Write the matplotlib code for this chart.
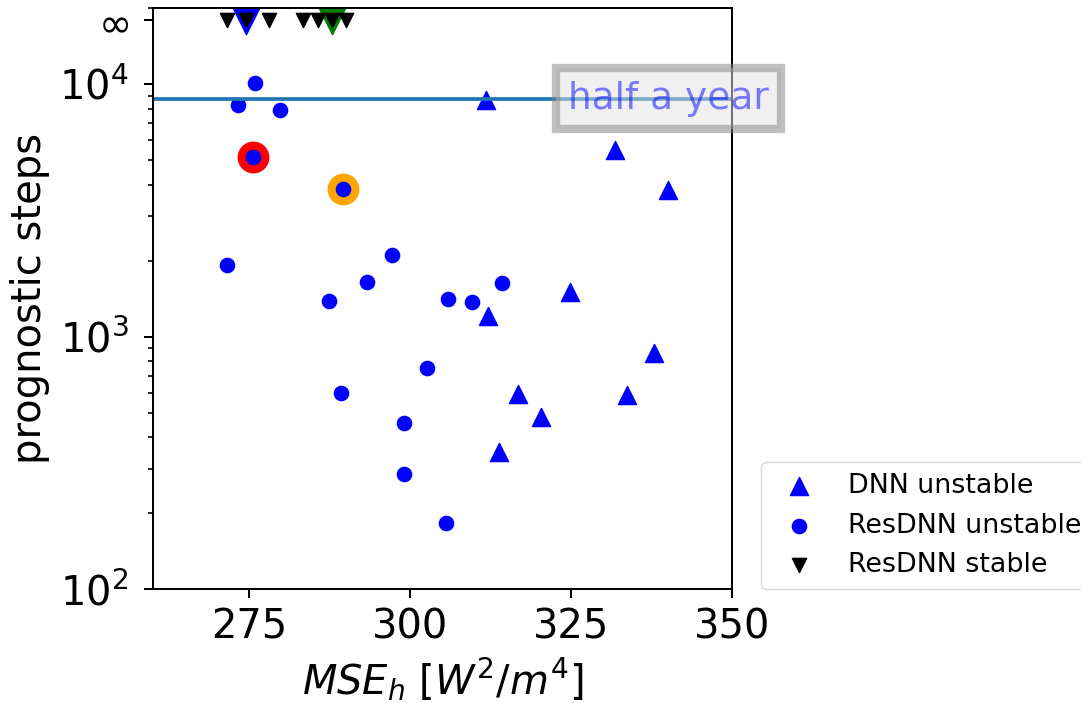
import matplotlib
matplotlib.use('Agg')
import matplotlib.pyplot as plt

# DNN unstable runs (MSE, prognostic steps before blow-up)
dnn_mse = [311.7, 331.7, 340.0, 324.7, 312.0, 337.8, 316.7, 333.6, 320.3, 313.7]
dnn_steps = [8690, 5510, 3820, 1500, 1210, 864, 594, 586, 481, 348]

# ResDNN unstable runs
res_mse = [275.9, 273.2, 279.8, 275.5, 289.6, 271.6, 287.4, 293.3, 297.2,
           305.8, 309.6, 314.2, 302.5, 289.2, 299.0, 299.0, 305.6]
res_steps = [10140, 8240, 7920, 5140, 3850, 1920, 1385, 1653, 2103,
             1406, 1377, 1624, 753, 597, 454, 286, 183]

# ResDNN stable runs (plotted at "infinity")
stable_mse = [271.6, 274.4, 278.0, 283.3, 285.7, 287.8, 290.0]
INF = 1.8e4
half_year = 8760

# highlighted models
hl_unstable = [(275.5, 5140, 'red'), (289.6, 3850, 'orange')]
hl_stable = [(274.4, 'blue'), (287.8, 'green')]

fig = plt.figure(figsize=(10.81, 7.03), dpi=100)
ax = fig.add_axes([0.1413, 0.1622, 0.5363, 0.8260])

for x, y, c in hl_unstable:
    ax.scatter(x, y, s=480, color=c)
for x, c in hl_stable:
    ax.scatter(x, INF, s=420, marker='v', color=c)

ax.scatter(dnn_mse, dnn_steps, s=170, marker='^', color='blue', label='DNN unstable')
ax.scatter(res_mse, res_steps, s=105, marker='o', color='blue', label='ResDNN unstable')
ax.scatter(stable_mse, [INF] * len(stable_mse), s=105, marker='v', color='black',
           label='ResDNN stable')

ax.axhline(half_year, lw=2.7)
ax.text(324.5, half_year, 'half a year', fontsize=27, color='blue', alpha=0.5, va='center',
        bbox=dict(facecolor='#e2e2e2', edgecolor='gray', alpha=0.5, lw=6, pad=9))

ax.set_yscale('log')
ax.set_xlim(260, 350)
ax.set_ylim(100, 2e4)
ax.set_xticks([275, 300, 325, 350])
ax.set_yticks([1e2, 1e3, 1e4, INF])
ax.set_yticklabels(['$10^2$', '$10^3$', '$10^4$', r'$\infty$'])
ax.tick_params(labelsize=28.8, width=1.44, length=6.3)
ax.tick_params(axis='x', pad=7)
ax.tick_params(axis='y', pad=11)
ax.tick_params(which='minor', width=1.2, length=3.6)
for sp in ax.spines.values():
    sp.set_linewidth(1.44)

ax.set_xlabel('$MSE_h$ [$W^2/m^4$]', fontsize=28.8, labelpad=6)
ax.set_ylabel('prognostic steps', fontsize=28.8, labelpad=7)

ax.legend(loc='lower left', bbox_to_anchor=(1.05, 0), borderaxespad=0, fontsize=19.4)

plt.savefig('out.png', dpi=100)
